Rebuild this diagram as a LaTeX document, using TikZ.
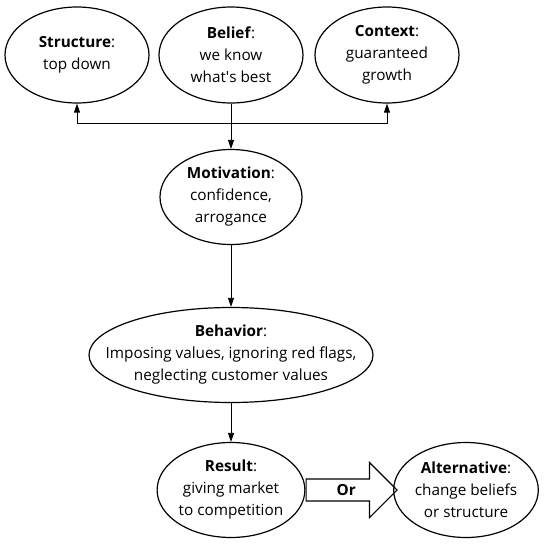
\documentclass[tikz,border=0pt]{standalone}
\usepackage{fontspec}
\setmainfont{Open Sans}
\usetikzlibrary{arrows.meta,positioning,shapes.geometric,shapes.arrows}

\begin{document}
\begin{tikzpicture}[
  x=1pt, y=-1pt,
  font=\fontsize{15.3}{22}\selectfont,
  oval/.style={draw, line width=1.2pt, ellipse, inner sep=0pt, align=center, minimum width=144pt, minimum height=96pt},
  arrow/.style={-{Triangle[length=9pt, width=6pt]}, line width=0.8pt},
  bigarrow/.style={draw, line width=1.2pt, single arrow, single arrow head extend=12.5pt, shape border rotate=0, minimum width=55pt, minimum height=91pt, inner sep=2pt, font=\fontsize{15.3}{22}\selectfont\bfseries}
]
\useasboundingbox (0,0) rectangle (547,546);

\node[oval] (structure) at (77,55) {\textbf{Structure}:\\top down};
\node[oval] (belief) at (231,55) {\textbf{Belief}:\\we know\\what\textquotesingle s best};
\node[oval] (context) at (387,55) {\textbf{Context}:\\guaranteed\\growth};
\node[oval, minimum width=142pt, minimum height=95pt] (motivation) at (231,197) {\textbf{Motivation}:\\confidence,\\arrogance};
\node[oval, inner xsep=-34pt, minimum width=284pt, minimum height=95pt] (behavior) at (231,355) {\textbf{Behavior}:\\Imposing values, ignoring red flags,\\neglecting customer values};
\node[oval, minimum width=146pt, minimum height=95pt] (result) at (231,490) {\textbf{Result}:\\giving market\\to competition};
\node[oval, minimum width=143pt, minimum height=95pt] (alternative) at (466,490) {\textbf{Alternative}:\\change beliefs\\or structure};

\coordinate (split) at (231,123);
\draw[line width=0.8pt] (belief.south) -- (split);
\draw[arrow] (split) -| (structure.south);
\draw[arrow] (split) -| (context.south);
\draw[arrow] (split) -- (motivation.north);
\draw[arrow] (motivation) -- (behavior);
\draw[arrow] (behavior) -- (result);

\node[bigarrow, anchor=tail] (or) at (result.east) {Or};

\end{tikzpicture}
\end{document}
